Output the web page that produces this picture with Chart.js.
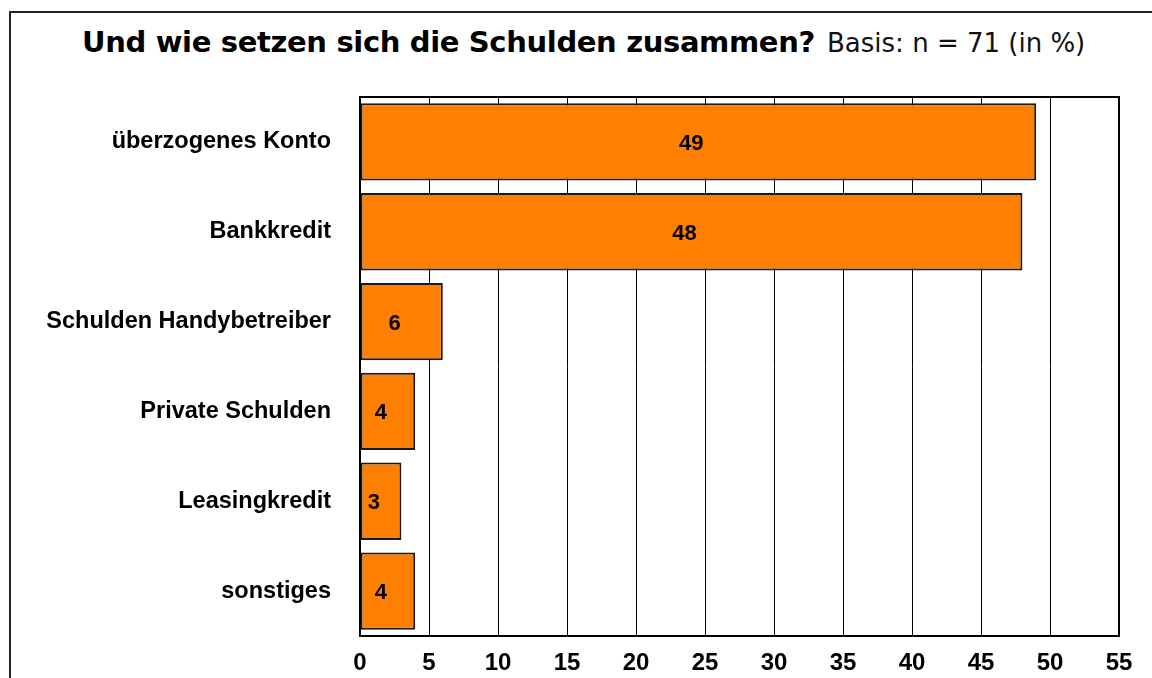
<!DOCTYPE html>
<html>
<head>
<meta charset="utf-8">
<script src="https://cdn.jsdelivr.net/npm/chart.js@4/dist/chart.umd.min.js"></script>
<style>
  body { margin: 0; background: #fff; }
  #wrap { position: relative; width: 1152px; height: 678px; overflow: hidden; }
  #frame { position: absolute; left: 9px; top: 11px; width: 1200px; height: 800px; border: 2px solid #222; box-sizing: border-box; }
  #title { position: absolute; left: 82px; top: 25px; white-space: nowrap; color: #000; font-family: "DejaVu Sans", sans-serif; }
  #title b { font-size: 29px; letter-spacing: -0.35px; margin-right: 7px; }
  #title span { font-size: 26px; font-weight: normal; color: #111; }
  #chart { position: absolute; left: 0; top: 0; }
</style>
</head>
<body>
<div id="wrap">
  <div id="frame"></div>
  <div id="title"><b>Und wie setzen sich die Schulden zusammen?</b> <span>Basis: n = 71 (in %)</span></div>
  <canvas id="chart" width="1152" height="678"></canvas>
</div>
<script>
const categories = ['überzogenes Konto', 'Bankkredit', 'Schulden Handybetreiber', 'Private Schulden', 'Leasingkredit', 'sonstiges'];
const values = [49, 48, 6, 4, 3, 4];
const tickValues = [0, 5, 10, 15, 20, 25, 30, 35, 40, 45, 50, 55];

// draws the value inside each bar and the box round the plot
const barLabels = {
  id: 'barLabels',
  afterDatasetsDraw(chart) {
    const ctx = chart.ctx;
    const meta = chart.getDatasetMeta(0);
    ctx.save();
    ctx.font = 'bold 22px "Liberation Sans", Arial, sans-serif';
    ctx.fillStyle = '#000';
    ctx.textAlign = 'center';
    ctx.textBaseline = 'middle';
    meta.data.forEach((bar, i) => {
      const x = (bar.base + bar.x) / 2 - 7;
      ctx.fillText(values[i], x, bar.y + 2);
    });
    ctx.restore();
  },
  afterDraw(chart) {
    const a = chart.chartArea;
    const ctx = chart.ctx;
    ctx.save();
    ctx.strokeStyle = '#000';
    ctx.lineWidth = 2;
    ctx.strokeRect(a.left, a.top, a.right - a.left, a.bottom - a.top);
    ctx.restore();
  }
};

new Chart(document.getElementById('chart'), {
  type: 'bar',
  data: {
    labels: categories,
    datasets: [{
      data: values,
      backgroundColor: '#FF8000',
      borderColor: '#1a1a1a',
      borderWidth: 2,
      borderSkipped: false,
      barPercentage: 0.86,
      categoryPercentage: 1
    }]
  },
  options: {
    indexAxis: 'y',
    responsive: false,
    animation: false,
    layout: { padding: { left: 0, right: 33, top: 97, bottom: 0 } },
    plugins: { legend: { display: false }, tooltip: { enabled: false } },
    scales: {
      x: {
        min: 0,
        max: 55,
        afterBuildTicks(scale) {
          scale.ticks = tickValues.map(v => ({ value: v }));
        },
        afterFit(scale) { scale.height = 42; },
        grid: { color: '#000', lineWidth: 1, drawTicks: false },
        border: { display: false },
        ticks: {
          padding: 13,
          color: '#000',
          font: { family: '"Liberation Sans Narrow", "Liberation Sans", Arial', size: 24, weight: 'bold' }
        }
      },
      y: {
        afterFit(scale) { scale.width = 360; },
        grid: { display: false },
        border: { display: false },
        ticks: {
          padding: 21,
          color: '#000',
          font: { family: '"Liberation Sans", Arial', size: 23.5, weight: 'bold' }
        }
      }
    }
  },
  plugins: [barLabels]
});
</script>
</body>
</html>
